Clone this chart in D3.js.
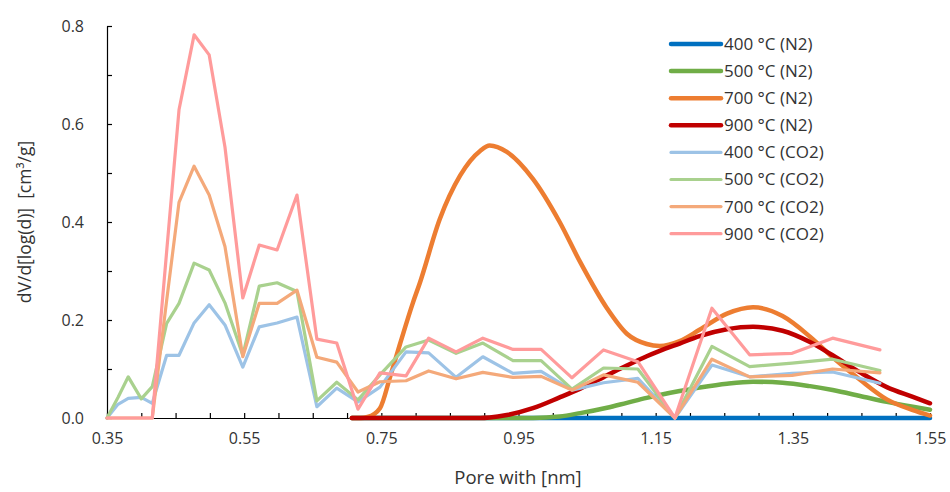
<!DOCTYPE html>
<html>
<head>
<meta charset="utf-8">
<script src="https://cdn.jsdelivr.net/npm/d3@7"></script>
<style>
  html, body { margin: 0; padding: 0; background: #fff; }
  svg { display: block; font-family: "Open Sans", "Noto Sans", sans-serif; }
</style>
</head>
<body>
<svg id="chart" width="950" height="492"></svg>
<script>
// Pore widths (nm) of the CO2 DFT distribution
const co2Width = [0.350, 0.366, 0.381, 0.400, 0.416, 0.437, 0.455, 0.477, 0.499, 0.522,
  0.548, 0.572, 0.598, 0.627, 0.656, 0.685, 0.716, 0.748, 0.786, 0.819, 0.859, 0.898,
  0.942, 0.983, 1.028, 1.074, 1.124, 1.178, 1.232, 1.287, 1.349, 1.408, 1.477];

const co2_400 = [0, 0.028, 0.040, 0.042, 0.030, 0.128, 0.128, 0.194, 0.231, 0.190,
  0.104, 0.186, 0.194, 0.206, 0.023, 0.061, 0.033, 0.063, 0.135, 0.133, 0.083, 0.125,
  0.091, 0.095, 0.057, 0.072, 0.081, 0, 0.108, 0.084, 0.091, 0.094, 0.071];
const co2_500 = [0, 0.042, 0.084, 0.039, 0.064, 0.193, 0.234, 0.316, 0.302, 0.235,
  0.128, 0.269, 0.276, 0.258, 0.035, 0.073, 0.037, 0.088, 0.145, 0.159, 0.132, 0.153,
  0.117, 0.117, 0.059, 0.102, 0.100, 0, 0.146, 0.105, 0.112, 0.120, 0.097];
const co2_700 = [0, 0, 0, 0, 0, 0.240, 0.440, 0.514, 0.455, 0.350,
  0.125, 0.234, 0.234, 0.261, 0.124, 0.114, 0.053, 0.074, 0.076, 0.096, 0.080, 0.093,
  0.083, 0.085, 0.057, 0.088, 0.073, 0, 0.120, 0.084, 0.087, 0.100, 0.092];
const co2_900 = [0, 0, 0, 0, 0, 0.340, 0.629, 0.782, 0.741, 0.553,
  0.245, 0.353, 0.343, 0.455, 0.161, 0.153, 0.018, 0.092, 0.086, 0.163, 0.135, 0.163,
  0.140, 0.140, 0.082, 0.139, 0.115, 0, 0.224, 0.129, 0.132, 0.163, 0.139];

// Pore widths (nm) of the N2 distribution
const n2Width = [0.707, 0.720, 0.730, 0.748, 0.763, 0.777, 0.796, 0.806, 0.835, 0.865,
  0.894, 0.908, 0.933, 0.971, 1.010, 1.040, 1.079, 1.108, 1.137, 1.156, 1.185, 1.214,
  1.254, 1.292, 1.335, 1.375, 1.408, 1.448, 1.487, 1.525, 1.550];

const n2_400 = [0, 0, 0, 0, 0, 0, 0, 0, 0, 0, 0, 0, 0, 0, 0, 0, 0, 0, 0, 0, 0, 0,
  0, 0, 0, 0, 0, 0, 0, 0, 0];
const n2_500 = [0, 0, 0, 0, 0, 0, 0, 0, 0, 0, 0, 0, 0, 0, 0.003, 0.010, 0.021, 0.031,
  0.041, 0.047, 0.055, 0.062, 0.070, 0.074, 0.072, 0.065, 0.057, 0.045, 0.033, 0.023, 0.017];
const n2_700 = [0, 0, 0.002, 0.020, 0.085, 0.150, 0.235, 0.275, 0.405, 0.495, 0.545,
  0.556, 0.543, 0.488, 0.400, 0.318, 0.224, 0.172, 0.151, 0.147, 0.157, 0.180, 0.213,
  0.226, 0.208, 0.166, 0.124, 0.078, 0.038, 0.016, 0.005];
const n2_900 = [0, 0, 0, 0, 0, 0, 0, 0, 0, 0, 0, 0.001, 0.006, 0.020, 0.042, 0.060,
  0.087, 0.107, 0.126, 0.137, 0.152, 0.167, 0.181, 0.186, 0.178, 0.155, 0.128, 0.093,
  0.063, 0.043, 0.030];

const seriesNames = ["400 °C (N2)", "500 °C (N2)", "700 °C (N2)", "900 °C (N2)",
  "400 °C (CO2)", "500 °C (CO2)", "700 °C (CO2)", "900 °C (CO2)"];

const xLabelTicks = [0.35, 0.55, 0.75, 0.95, 1.15, 1.35, 1.55];
const yLabelTicks = [0.0, 0.2, 0.4, 0.6, 0.8];

const xTitle = "Pore with [nm]";
const yTitle = "dV/d[log(d)]  [cm³/g]";

// ---- layout ----
const svg = d3.select("#chart");
const plotLeft = 107, plotRight = 930, plotTop = 26, plotBottom = 418;

const x = d3.scaleLinear().domain([0.35, 1.55]).range([plotLeft, plotRight]);
const y = d3.scaleLinear().domain([0, 0.8]).range([plotBottom, plotTop]);

const colors = ["#0070C0", "#70AD47", "#ED7D31", "#C00000",
  "#9DC3E6", "#A9D18E", "#F4A97A", "#FF9B9B"];

const series = [
  { xs: n2Width, ys: n2_400, smooth: true },
  { xs: n2Width, ys: n2_500, smooth: true },
  { xs: n2Width, ys: n2_700, smooth: true },
  { xs: n2Width, ys: n2_900, smooth: true },
  { xs: co2Width, ys: co2_400, smooth: false },
  { xs: co2Width, ys: co2_500, smooth: false },
  { xs: co2Width, ys: co2_700, smooth: false },
  { xs: co2Width, ys: co2_900, smooth: false }
].map((s, i) => ({ ...s, name: seriesNames[i], color: colors[i], width: s.smooth ? 4.5 : 3.2 }));

// ---- axes ----
const minorX = d3.range(0, 25).map(i => +(0.35 + i * 0.05).toFixed(2));
const minorY = d3.range(0, 9).map(i => +(i * 0.1).toFixed(1));

const xAxis = d3.axisBottom(x)
  .tickValues(minorX)
  .tickSizeInner(-5)
  .tickSizeOuter(0)
  .tickPadding(15)
  .tickFormat(d => xLabelTicks.some(v => Math.abs(v - d) < 1e-6) ? d3.format(".2f")(d) : "");

const yAxis = d3.axisLeft(y)
  .tickValues(minorY)
  .tickSizeInner(-5)
  .tickSizeOuter(0)
  .tickPadding(23)
  .tickFormat(d => yLabelTicks.some(v => Math.abs(v - d) < 1e-6) ? d3.format(".1f")(d) : "");

const gx = svg.append("g").attr("transform", `translate(0,${plotBottom})`).call(xAxis);
const gy = svg.append("g").attr("transform", `translate(${plotLeft},0)`).call(yAxis);

[gx, gy].forEach(g => {
  g.select(".domain").attr("stroke", "#000").attr("stroke-width", 1.2);
  g.selectAll(".tick line").attr("stroke", "#000").attr("stroke-width", 1.2);
  g.selectAll(".tick text").attr("fill", "#333").attr("font-size", 16)
    .attr("font-family", "'Open Sans', 'Noto Sans', sans-serif");
});

// ---- series ----
const plot = svg.append("g");
series.forEach(s => {
  const line = d3.line()
    .x(d => x(d[0]))
    .y(d => y(d[1]))
    .curve(s.smooth ? d3.curveMonotoneX : d3.curveLinear);
  plot.append("path")
    .datum(s.xs.map((v, i) => [v, s.ys[i]]))
    .attr("fill", "none")
    .attr("stroke", s.color)
    .attr("stroke-width", s.width)
    .attr("stroke-linejoin", "round")
    .attr("stroke-linecap", "round")
    .attr("d", line);
});

// ---- axis titles ----
svg.append("text")
  .attr("x", 518).attr("y", 484)
  .attr("text-anchor", "middle")
  .attr("font-size", 18.5)
  .attr("fill", "#333")
  .text(xTitle);

svg.append("text")
  .attr("transform", "translate(31,222) rotate(-90)")
  .attr("text-anchor", "middle")
  .attr("font-size", 17.5)
  .attr("fill", "#333")
  .attr("xml:space", "preserve")
  .style("white-space", "pre")
  .text(yTitle);

// ---- legend ----
const legend = svg.append("g").attr("transform", "translate(671,44)");
series.forEach((s, i) => {
  const row = legend.append("g").attr("transform", `translate(0,${i * 27.1})`);
  row.append("line")
    .attr("x1", 0).attr("x2", 50)
    .attr("y1", 0).attr("y2", 0)
    .attr("stroke", s.color)
    .attr("stroke-width", s.smooth ? 4.5 : 3.2)
    .attr("stroke-linecap", "round");
  row.append("text")
    .attr("x", 53).attr("y", 0)
    .attr("dy", "0.35em")
    .attr("font-size", 17)
    .attr("fill", "#333")
    .text(s.name);
});
</script>
</body>
</html>
